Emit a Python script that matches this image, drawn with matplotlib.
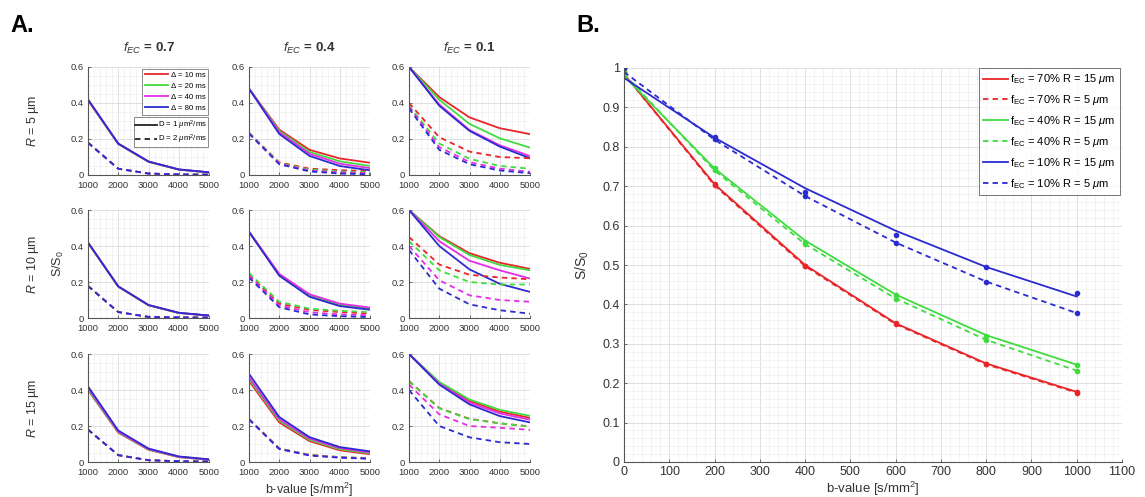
import matplotlib
matplotlib.use("Agg")
import matplotlib.pyplot as plt
from matplotlib.ticker import AutoMinorLocator
from matplotlib.lines import Line2D

plt.rcParams['font.family'] = ['Liberation Sans', 'DejaVu Sans']
plt.rcParams['mathtext.fontset'] = 'custom'
plt.rcParams['mathtext.rm'] = 'Liberation Sans'
plt.rcParams['mathtext.it'] = 'Liberation Sans:italic'

# ---------------- Panel A data ----------------
B_VALUES = [1000, 2000, 3000, 4000, 5000]
DELTA_LABELS = ['Δ = 10 ms', 'Δ = 20 ms', 'Δ = 40 ms', 'Δ = 80 ms']
D_LABELS = [r'D = 1 $\mu$m$^2$/ms', r'D = 2 $\mu$m$^2$/ms']
FEC_TITLES = ['0.7', '0.4', '0.1']
R_LABELS = ['5', '10', '15']
# each array: rows = Δ 10, 20, 40, 80 ms
R5_F07_D1 = [[0.415, 0.172, 0.073, 0.030, 0.014], [0.417, 0.173, 0.074, 0.030, 0.014],
             [0.418, 0.174, 0.075, 0.031, 0.015], [0.420, 0.175, 0.075, 0.031, 0.015]]
R5_F07_D2 = [[0.178, 0.035, 0.008, 0.003, 0.002], [0.179, 0.035, 0.008, 0.003, 0.002],
             [0.180, 0.035, 0.008, 0.003, 0.002], [0.180, 0.035, 0.008, 0.003, 0.002]]
R5_F04_D1 = [[0.480, 0.252, 0.140, 0.092, 0.068], [0.480, 0.245, 0.128, 0.076, 0.050],
             [0.480, 0.238, 0.118, 0.063, 0.038], [0.480, 0.228, 0.106, 0.050, 0.026]]
R5_F04_D2 = [[0.235, 0.070, 0.035, 0.027, 0.022], [0.235, 0.066, 0.030, 0.020, 0.015],
             [0.232, 0.063, 0.025, 0.015, 0.010], [0.230, 0.060, 0.020, 0.008, 0.004]]
R5_F01_D1 = [[0.600, 0.433, 0.320, 0.260, 0.227], [0.600, 0.418, 0.284, 0.204, 0.152],
             [0.600, 0.392, 0.250, 0.165, 0.105], [0.600, 0.385, 0.245, 0.158, 0.093]]
R5_F01_D2 = [[0.400, 0.210, 0.130, 0.100, 0.093], [0.385, 0.175, 0.090, 0.050, 0.035],
             [0.380, 0.155, 0.072, 0.035, 0.018], [0.370, 0.140, 0.060, 0.025, 0.010]]
R10_F07_D1 = [[0.417, 0.174, 0.071, 0.028, 0.013], [0.418, 0.175, 0.071, 0.028, 0.013],
              [0.419, 0.175, 0.072, 0.029, 0.013], [0.420, 0.176, 0.072, 0.029, 0.014]]
R10_F07_D2 = [[0.178, 0.033, 0.006, 0.003, 0.002], [0.178, 0.033, 0.006, 0.003, 0.002],
              [0.178, 0.033, 0.006, 0.003, 0.002], [0.178, 0.033, 0.006, 0.003, 0.002]]
R10_F04_D1 = [[0.480, 0.240, 0.125, 0.072, 0.050], [0.480, 0.242, 0.127, 0.074, 0.052],
              [0.480, 0.245, 0.132, 0.080, 0.058], [0.478, 0.235, 0.118, 0.066, 0.046]]
R10_F04_D2 = [[0.240, 0.080, 0.045, 0.033, 0.025], [0.250, 0.090, 0.052, 0.040, 0.033],
              [0.235, 0.070, 0.032, 0.020, 0.015], [0.225, 0.060, 0.020, 0.010, 0.005]]
R10_F01_D1 = [[0.600, 0.455, 0.360, 0.307, 0.273], [0.600, 0.450, 0.350, 0.295, 0.265],
              [0.600, 0.427, 0.318, 0.265, 0.219], [0.600, 0.400, 0.270, 0.190, 0.145]]
R10_F01_D2 = [[0.450, 0.297, 0.240, 0.225, 0.215], [0.427, 0.265, 0.200, 0.186, 0.186],
              [0.400, 0.210, 0.126, 0.100, 0.090], [0.378, 0.163, 0.076, 0.043, 0.024]]
R15_F07_D1 = [[0.400, 0.163, 0.068, 0.027, 0.012], [0.402, 0.165, 0.069, 0.028, 0.012],
              [0.410, 0.168, 0.071, 0.029, 0.013], [0.420, 0.175, 0.075, 0.031, 0.015]]
R15_F07_D2 = [[0.180, 0.038, 0.010, 0.004, 0.002], [0.180, 0.038, 0.010, 0.004, 0.002],
              [0.180, 0.038, 0.010, 0.004, 0.002], [0.180, 0.038, 0.010, 0.004, 0.002]]
R15_F04_D1 = [[0.450, 0.220, 0.116, 0.065, 0.043], [0.460, 0.230, 0.123, 0.071, 0.048],
              [0.470, 0.238, 0.130, 0.077, 0.053], [0.490, 0.250, 0.138, 0.083, 0.059]]
R15_F04_D2 = [[0.240, 0.075, 0.040, 0.027, 0.020], [0.240, 0.075, 0.040, 0.027, 0.022],
              [0.238, 0.074, 0.038, 0.025, 0.019], [0.236, 0.072, 0.036, 0.024, 0.018]]
R15_F01_D1 = [[0.600, 0.440, 0.340, 0.280, 0.245], [0.600, 0.445, 0.347, 0.290, 0.256],
              [0.600, 0.435, 0.330, 0.270, 0.235], [0.600, 0.430, 0.320, 0.255, 0.220]]
R15_F01_D2 = [[0.450, 0.300, 0.240, 0.215, 0.198], [0.448, 0.298, 0.238, 0.215, 0.196],
              [0.430, 0.265, 0.200, 0.190, 0.179], [0.400, 0.200, 0.137, 0.110, 0.100]]

GRID_A = [[(R5_F07_D1, R5_F07_D2), (R5_F04_D1, R5_F04_D2), (R5_F01_D1, R5_F01_D2)],
          [(R10_F07_D1, R10_F07_D2), (R10_F04_D1, R10_F04_D2), (R10_F01_D1, R10_F01_D2)],
          [(R15_F07_D1, R15_F07_D2), (R15_F04_D1, R15_F04_D2), (R15_F01_D1, R15_F01_D2)]]

# ---------------- Panel B data ----------------
B_X = [0, 200, 400, 600, 800, 1000]
B_LABELS = [r'f$_{\rm EC}$ = 70% R = 15 $\mu$m', r'f$_{\rm EC}$ = 70% R = 5 $\mu$m',
            r'f$_{\rm EC}$ = 40% R = 15 $\mu$m', r'f$_{\rm EC}$ = 40% R = 5 $\mu$m',
            r'f$_{\rm EC}$ = 10% R = 15 $\mu$m', r'f$_{\rm EC}$ = 10% R = 5 $\mu$m']
F70_R15_FIT = [0.985, 0.705, 0.500, 0.352, 0.250, 0.178]
F70_R5_FIT = [0.985, 0.702, 0.497, 0.350, 0.248, 0.176]
F40_R15_FIT = [0.980, 0.745, 0.562, 0.425, 0.322, 0.247]
F40_R5_FIT = [0.985, 0.740, 0.553, 0.415, 0.310, 0.232]
F10_R15_FIT = [0.975, 0.823, 0.695, 0.587, 0.495, 0.420]
F10_R5_FIT = [0.990, 0.818, 0.675, 0.557, 0.458, 0.378]
F70_R15_PTS = [0.990, 0.705, 0.498, 0.352, 0.250, 0.178]
F70_R5_PTS = [0.990, 0.702, 0.497, 0.350, 0.248, 0.176]
F40_R15_PTS = [0.990, 0.745, 0.558, 0.425, 0.320, 0.247]
F40_R5_PTS = [0.990, 0.740, 0.553, 0.413, 0.310, 0.230]
F10_R15_PTS = [1.000, 0.825, 0.685, 0.577, 0.495, 0.430]
F10_R5_PTS = [1.000, 0.820, 0.676, 0.555, 0.458, 0.378]
B_FITS = [F70_R15_FIT, F70_R5_FIT, F40_R15_FIT, F40_R5_FIT, F10_R15_FIT, F10_R5_FIT]
B_PTS = [F70_R15_PTS, F70_R5_PTS, F40_R15_PTS, F40_R5_PTS, F10_R15_PTS, F10_R5_PTS]
B_XTICKS = [0, 100, 200, 300, 400, 500, 600, 700, 800, 900, 1000, 1100]
B_YTICKS = [0, 0.1, 0.2, 0.3, 0.4, 0.5, 0.6, 0.7, 0.8, 0.9, 1]
B_YTICKLABELS = ['0', '0.1', '0.2', '0.3', '0.4', '0.5', '0.6', '0.7', '0.8', '0.9', '1']

COLORS = ['#e8262a', '#3fdc3f', '#e62ee6', '#2b2bd0']
B_COLORS = ['#e8262a', '#e8262a', '#3fdc3f', '#3fdc3f', '#2b2bd0', '#2b2bd0']
B_DASHED = [False, True, False, True, False, True]
DASH = (0, (3, 2.3))

AXC = '#555555'
TXT = '#333333'

W, H = 1145, 497
fig = plt.figure(figsize=(W / 100, H / 100), dpi=100)


def style_axes(ax, fs):
    for s in ['top', 'right']:
        ax.spines[s].set_visible(False)
    for s in ['left', 'bottom']:
        ax.spines[s].set_color(AXC)
        ax.spines[s].set_linewidth(0.8)
    ax.tick_params(axis='both', which='both', colors=AXC, labelcolor=TXT,
                   labelsize=fs, direction='in', length=2, width=0.6)
    ax.tick_params(which='minor', length=0)
    ax.grid(True, which='major', color='#dadada', linewidth=0.6)
    ax.grid(True, which='minor', color='#eeeeee', linewidth=0.5)
    ax.set_axisbelow(True)


col_left = [88, 249, 409]
ax_w = 121
row_top = [67, 210, 354]
ax_h = 108

axes_a = []
for r in range(3):
    for c in range(3):
        left = col_left[c] / W
        bottom = 1 - (row_top[r] + ax_h) / H
        ax = fig.add_axes([left, bottom, ax_w / W, ax_h / H])
        style_axes(ax, 6.8)
        d1, d2 = GRID_A[r][c]
        for k in range(4):
            ax.plot(B_VALUES, d1[k], color=COLORS[k], lw=1.3, solid_capstyle='butt')
        for k in range(4):
            ax.plot(B_VALUES, d2[k], color=COLORS[k], lw=1.3, ls=DASH)
        ax.set_xlim(1000, 5000)
        ax.set_ylim(0, 0.6)
        ax.set_xticks(B_VALUES)
        ax.set_yticks([0, 0.2, 0.4, 0.6])
        ax.set_yticklabels(['0', '0.2', '0.4', '0.6'])
        ax.xaxis.set_minor_locator(AutoMinorLocator())
        ax.yaxis.set_minor_locator(AutoMinorLocator())
        ax.tick_params(axis='x', pad=4)
        ax.tick_params(axis='y', pad=3)
        if r == 0:
            ax.set_title(r'$f_{EC}$ = ' + FEC_TITLES[c], fontsize=9.5, fontweight='bold',
                         color=TXT, pad=11)
        if c == 0:
            fig.text(33 / W, 1 - (row_top[r] + ax_h / 2) / H, r'$R$ = ' + R_LABELS[r] + ' µm',
                     rotation=90, ha='center', va='center', fontsize=9, color=TXT)
        axes_a.append(ax)

axes_a[3].set_ylabel('S/S$_0$', fontsize=9, color=TXT, labelpad=3)
axes_a[7].set_xlabel('b-value [s/mm$^2$]', fontsize=9, color=TXT, labelpad=3)

# legends in first subplot
ax0 = axes_a[0]
h1 = [Line2D([], [], color=COLORS[k], lw=1.3) for k in range(4)]
leg1 = ax0.legend(h1, DELTA_LABELS, loc='upper right', bbox_to_anchor=(1.0, 0.99), fontsize=5.6,
                  frameon=True, handlelength=3.0, handletextpad=0.3, borderpad=0.35,
                  labelspacing=0.45, borderaxespad=0.1, fancybox=False, edgecolor='#555555')
leg1.get_frame().set_linewidth(0.6)
ax0.add_artist(leg1)
h2 = [Line2D([], [], color='#222222', lw=1.3),
      Line2D([], [], color='#222222', lw=1.3, ls=DASH)]
leg2 = ax0.legend(h2, D_LABELS, loc='upper right', bbox_to_anchor=(1.0, 0.545), fontsize=5.6,
                  frameon=True, handlelength=2.8, handletextpad=0.1, borderpad=0.2,
                  labelspacing=0.1, borderaxespad=0.1, fancybox=False, edgecolor='#555555')
leg2.get_frame().set_linewidth(0.6)

# ---------------- Panel B ----------------
bl, br, bt, bb = 624, 1122, 68, 462
axb = fig.add_axes([bl / W, 1 - bb / H, (br - bl) / W, (bb - bt) / H])
style_axes(axb, 9)
for k in range(6):
    axb.plot(B_X, B_FITS[k], color=B_COLORS[k], ls=DASH if B_DASHED[k] else '-',
             lw=1.3, label=B_LABELS[k])
    axb.plot(B_X, B_PTS[k], color=B_COLORS[k], ls='none', marker='o', ms=3)
axb.set_xlim(0, 1100)
axb.set_ylim(0, 1)
axb.set_xticks(B_XTICKS)
axb.set_yticks(B_YTICKS)
axb.set_yticklabels(B_YTICKLABELS)
axb.xaxis.set_minor_locator(AutoMinorLocator())
axb.yaxis.set_minor_locator(AutoMinorLocator())
axb.tick_params(axis='x', pad=3)
axb.tick_params(axis='y', pad=3)
axb.set_xlabel('b-value [s/mm$^2$]', fontsize=9.5, color=TXT, labelpad=1)
axb.set_ylabel('S/S$_0$', fontsize=10, color=TXT, labelpad=8)
legb = axb.legend(loc='upper right', bbox_to_anchor=(0.995, 1.0), fontsize=8, frameon=True,
                  fancybox=False, edgecolor='#555555', handlelength=2.2, handletextpad=0.2,
                  borderpad=0.4, labelspacing=0.62, borderaxespad=0.0)
legb.get_frame().set_linewidth(0.7)

fig.text(10 / W, 1 - 25 / H, 'A.', fontsize=17, fontweight='bold', va='center', ha='left')
fig.text(576 / W, 1 - 25 / H, 'B.', fontsize=17, fontweight='bold', va='center', ha='left')

fig.savefig('out.png', dpi=100)
